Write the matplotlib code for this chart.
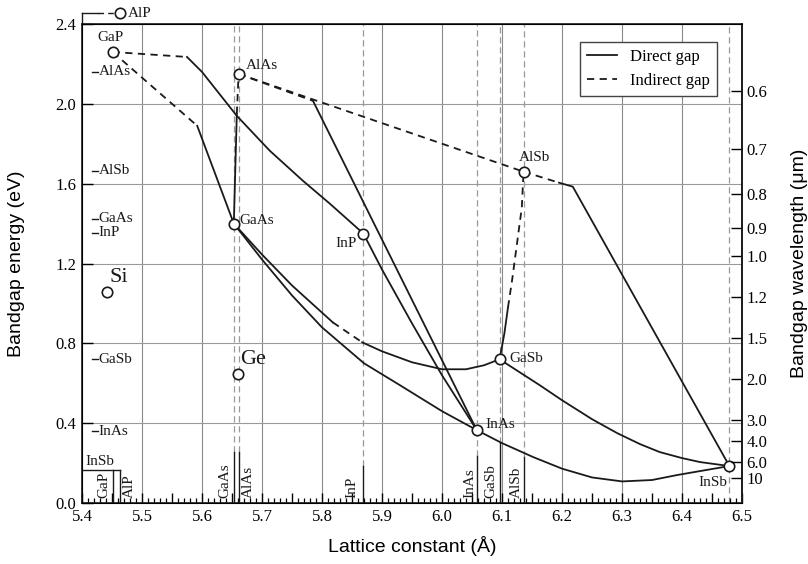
import numpy as np
import matplotlib.pyplot as plt
from matplotlib.lines import Line2D

plt.rcParams['font.family'] = ['Liberation Serif', 'DejaVu Serif']

# binary compounds: lattice constant (A) and gap (eV)
names = ['GaP', 'AlP', 'GaAs', 'AlAs', 'InP', 'InAs', 'GaSb', 'AlSb', 'InSb']
lattice = [5.451, 5.463, 5.653, 5.661, 5.869, 6.058, 6.096, 6.136, 6.479]
gap = [2.26, 2.455, 1.40, 2.15, 1.35, 0.365, 0.72, 1.66, 0.185]

# elements
si_ge_names = ['Si', 'Ge']
si_ge_a = [5.442, 5.660]
si_ge_eg = [1.055, 0.645]

# ternary curves (direct = solid, indirect = dashed)
gainp_ind_x = [5.451, 5.575]
gainp_ind_y = [2.26, 2.235]
gainp_dir_x = [5.575, 5.60, 5.658, 5.713, 5.768, 5.813, 5.869]
gainp_dir_y = [2.235, 2.16, 1.94, 1.765, 1.615, 1.50, 1.35]

gaasp_ind_x = [5.451, 5.592]
gaasp_ind_y = [2.26, 1.89]
gaasp_dir_x = [5.592, 5.653]
gaasp_dir_y = [1.89, 1.40]

algaas_dir_x = [5.653, 5.658]
algaas_dir_y = [1.40, 1.95]
algaas_ind_x = [5.658, 5.661]
algaas_ind_y = [1.95, 2.15]

alassb_ind_x = [5.661, 6.136]
alassb_ind_y = [2.15, 1.66]

alinas_ind_x = [5.661, 5.785]
alinas_ind_y = [2.15, 2.015]
alinas_dir_x = [5.785, 6.058]
alinas_dir_y = [2.015, 0.365]

inasp_x = [5.869, 5.90, 5.95, 6.00, 6.058]
inasp_y = [1.35, 1.17, 0.90, 0.64, 0.365]

ingaas_x = [5.653, 5.70, 5.75, 5.80, 5.87, 5.93, 6.00, 6.058]
ingaas_y = [1.40, 1.22, 1.04, 0.88, 0.70, 0.59, 0.46, 0.365]

gaassb_dir1_x = [5.653, 5.70, 5.75, 5.818]
gaassb_dir1_y = [1.40, 1.245, 1.09, 0.905]
gaassb_ind_x = [5.818, 5.867]
gaassb_ind_y = [0.905, 0.805]
gaassb_dir2_x = [5.867, 5.90, 5.95, 6.00, 6.04, 6.07, 6.096]
gaassb_dir2_y = [0.805, 0.76, 0.705, 0.67, 0.67, 0.69, 0.72]

inassb_x = [6.058, 6.10, 6.152, 6.20, 6.25, 6.30, 6.35, 6.392, 6.44, 6.479]
inassb_y = [0.365, 0.30, 0.23, 0.172, 0.128, 0.108, 0.115, 0.14, 0.165, 0.185]

gainsb_x = [6.096, 6.163, 6.20, 6.25, 6.292, 6.33, 6.363, 6.40, 6.43, 6.479]
gainsb_y = [0.72, 0.59, 0.515, 0.42, 0.35, 0.295, 0.255, 0.225, 0.205, 0.185]

algasb_dir_x = [6.096, 6.104, 6.11]
algasb_dir_y = [0.72, 0.85, 0.98]
algasb_ind_x = [6.11, 6.117, 6.125, 6.133, 6.136]
algasb_ind_y = [0.98, 1.12, 1.30, 1.48, 1.66]

alinsb_ind_x = [6.136, 6.195]
alinsb_ind_y = [1.66, 1.605]
alinsb_dir_x = [6.195, 6.218, 6.479]
alinsb_dir_y = [1.605, 1.585, 0.185]

# left-axis gap markers
left_names = ['AlAs', 'AlSb', 'GaAs', 'InP', 'GaSb', 'InAs']
left_eg = [2.16, 1.665, 1.425, 1.355, 0.72, 0.36]

# bottom lattice markers: name, x, solid height, text x
bottom_names = ['GaP', 'AlP', 'GaAs', 'AlAs', 'InP', 'InAs', 'GaSb', 'AlSb']
bottom_a = [5.451, 5.463, 5.653, 5.661, 5.869, 6.058, 6.096, 6.136]
bottom_top = [0.165, 0.165, 0.255, 0.255, 0.185, 0.235, 0.30, 0.23]
bottom_text_x = [5.436, 5.479, 5.638, 5.677, 5.850, 6.046, 6.082, 6.124]

# right axis wavelength ticks (um)
wl_ticks = [0.6, 0.7, 0.8, 0.9, 1.0, 1.2, 1.5, 2.0, 3.0, 4.0, 6.0, 10]
wl_labels = ['0.6', '0.7', '0.8', '0.9', '1.0', '1.2', '1.5', '2.0', '3.0', '4.0', '6.0', '10']

K = '#1a1a1a'
LW = 1.3

fig = plt.figure(figsize=(8.08, 5.64), dpi=100)
ax = fig.add_axes([0.1015, 0.1082, 0.8168, 0.8492])
ax.set_xlim(5.4, 6.5)
ax.set_ylim(0, 2.4)

# grid
for gx in np.arange(5.5, 6.45, 0.1):
    ax.axvline(gx, color='#8a8a8a', lw=0.8, zorder=0)
for gy in [0.4, 0.8, 1.2, 1.6, 2.0]:
    ax.axhline(gy, color='#9a9a9a', lw=0.8, zorder=0)

# vertical compound lines
for n, a, top in zip(bottom_names, bottom_a, bottom_top):
    ax.plot([a, a], [0, top], color=K, lw=1.0, zorder=2)
    if n not in ('GaP', 'AlP'):
        ax.plot([a, a], [top, 2.4], color='#999999', lw=0.9, dashes=(5, 3), zorder=1)
ax.plot([lattice[-1]] * 2, [0, 2.4], color='#999999', lw=0.9, dashes=(5, 3), zorder=1)
for n, tx in zip(bottom_names, bottom_text_x):
    ax.text(tx, 0.025, n, rotation=90, ha='center', va='bottom', fontsize=11, color=K)

# InSb marker on the left
ax.plot([5.4, 5.463], [0.165, 0.165], color=K, lw=1.0)
ax.text(5.405, 0.175, 'InSb', ha='left', va='bottom', fontsize=11, color=K)

# left gap markers
for n, e in zip(left_names, left_eg):
    ax.plot([5.4165, 5.4265], [e, e], color=K, lw=1.0)
    ax.text(5.428, e, n, ha='left', va='center', fontsize=11, color=K)

# AlP above the frame
ax.plot([5.4, 5.4], [2.4, 2.455], color=K, lw=1.0, clip_on=False)
ax.plot([5.4, 5.427], [2.455, 2.455], color=K, lw=1.0, clip_on=False)
ax.plot([5.427, 5.458], [2.455, 2.455], color=K, lw=1.0, dashes=(4, 3), clip_on=False)

# curves
solid = [(gainp_dir_x, gainp_dir_y), (gaasp_dir_x, gaasp_dir_y), (algaas_dir_x, algaas_dir_y),
         (alinas_dir_x, alinas_dir_y), (inasp_x, inasp_y), (ingaas_x, ingaas_y),
         (gaassb_dir1_x, gaassb_dir1_y), (gaassb_dir2_x, gaassb_dir2_y), (inassb_x, inassb_y),
         (gainsb_x, gainsb_y), (algasb_dir_x, algasb_dir_y), (alinsb_dir_x, alinsb_dir_y)]
dashed = [(gainp_ind_x, gainp_ind_y), (gaasp_ind_x, gaasp_ind_y), (algaas_ind_x, algaas_ind_y),
          (alassb_ind_x, alassb_ind_y), (alinas_ind_x, alinas_ind_y), (gaassb_ind_x, gaassb_ind_y),
          (algasb_ind_x, algasb_ind_y), (alinsb_ind_x, alinsb_ind_y)]
for xs, ys in solid:
    ax.plot(xs, ys, color=K, lw=LW, zorder=3, solid_joinstyle='round')
for xs, ys in dashed:
    ax.plot(xs, ys, color=K, lw=LW, dashes=(4, 3), zorder=3)

# compound circles
ax.plot(lattice, gap, 'o', ms=7.5, mfc='white', mec=K, mew=1.2, zorder=5, clip_on=False)
ax.plot(si_ge_a, si_ge_eg, 'o', ms=7.5, mfc='white', mec=K, mew=1.2, zorder=5)

lab = dict(fontsize=11, color=K, zorder=6)
ax.text(5.448, 2.33, 'GaP', ha='center', va='center', **lab)
ax.text(5.477, 2.455, 'AlP', ha='left', va='center', clip_on=False, **lab)
ax.text(5.673, 2.19, 'AlAs', ha='left', va='center', **lab)
ax.text(5.663, 1.415, 'GaAs', ha='left', va='center', **lab)
ax.text(5.858, 1.30, 'InP', ha='right', va='center', **lab)
ax.text(6.128, 1.73, 'AlSb', ha='left', va='center', **lab)
ax.text(6.113, 0.725, 'GaSb', ha='left', va='center', **lab)
ax.text(6.072, 0.395, 'InAs', ha='left', va='center', **lab)
ax.text(6.475, 0.105, 'InSb', ha='right', va='center', **lab)
for n, a, e in zip(si_ge_names, si_ge_a, si_ge_eg):
    ax.text(a + 0.004, e + 0.075, n, ha='left', va='center', fontsize=16, color=K)

# ticks
xt = np.arange(5.4, 6.501, 0.05)
ax.set_xticks(xt)
ax.set_xticklabels(['%.1f' % v if i % 2 == 0 else '' for i, v in enumerate(xt)])
ax.set_xticks(np.arange(5.4, 6.501, 0.01), minor=True)
ax.set_yticks([0.0, 0.4, 0.8, 1.2, 1.6, 2.0, 2.4])
ax.set_yticklabels(['0.0', '0.4', '0.8', '1.2', '1.6', '2.0', '2.4'])
ax.tick_params(axis='x', which='major', direction='in', length=7, width=1, labelsize=12, pad=4)
ax.tick_params(axis='x', which='minor', direction='in', length=3.5, width=0.9)
ax.tick_params(axis='y', which='major', direction='in', length=8, width=1, labelsize=12, pad=4)
ax.tick_params(top=False, right=False)
for s in ax.spines.values():
    s.set_color(K)
    s.set_linewidth(1.2)

ax2 = ax.twinx()
ax2.set_ylim(0, 2.4)
ax2.set_yticks([1.24 / w for w in wl_ticks])
ax2.set_yticklabels(wl_labels)
ax2.tick_params(axis='y', direction='in', length=8, width=1, labelsize=12, pad=3)
ax2.spines['right'].set_color(K)
ax2.spines['right'].set_linewidth(1.2)

ax.set_xlabel('Lattice constant (Å)', fontfamily='Liberation Sans', fontsize=14, labelpad=8)
ax.set_ylabel('Bandgap energy (eV)', fontfamily='Liberation Sans', fontsize=14, labelpad=22)
ax2.set_ylabel('Bandgap wavelength (μm)', fontfamily='Liberation Sans', fontsize=14, labelpad=17)

handles = [Line2D([], [], color=K, lw=LW), Line2D([], [], color=K, lw=LW, dashes=(4, 3))]
leg = ax.legend(handles, ['Direct gap', 'Indirect gap'], loc='upper right',
                bbox_to_anchor=(0.962, 0.962), borderaxespad=0, fancybox=False,
                edgecolor='#444444', fontsize=12, handlelength=1.8, framealpha=1)
leg.get_frame().set_linewidth(1.0)

fig.savefig('out.png', dpi=100)
